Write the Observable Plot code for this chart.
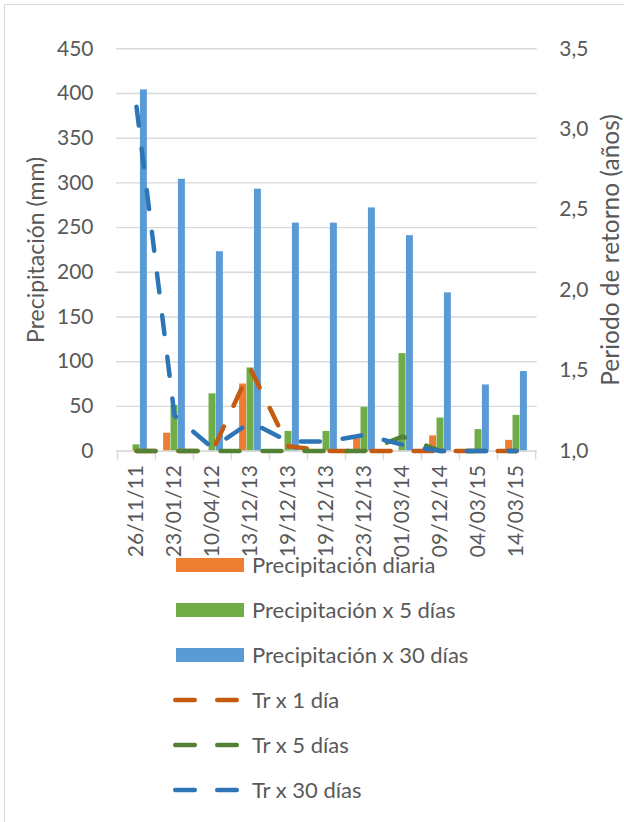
<!DOCTYPE html>
<html>
<head>
<meta charset="utf-8">
<script src="https://cdn.jsdelivr.net/npm/d3@7"></script>
<script src="https://cdn.jsdelivr.net/npm/@observablehq/plot@0.6"></script>
<style>
  html, body { margin: 0; padding: 0; background: #fff; }
  body { width: 624px; height: 822px; position: relative; overflow: hidden; font-family: Lato, "Open Sans", sans-serif; color: #595959; }
  #frame { position: absolute; left: 4px; top: 4px; width: 700px; height: 900px; border: 1.5px solid #d9d9d9; box-sizing: border-box; }
  #chart { position: absolute; left: 0; top: 0; }
  #legend { position: absolute; left: 0; top: 0; width: 624px; }
  .entry { position: absolute; left: 173px; height: 24px; display: flex; align-items: center; font-size: 22px; color: #595959; white-space: nowrap; }
  .entry .sw { width: 68px; height: 14px; margin-left: 3px; }
  .entry svg { width: 71px; height: 10px; }
  .entry span { position: absolute; left: 79px; line-height: 24px; }
</style>
</head>
<body>
<div id="frame"></div>
<div id="chart"></div>
<div id="legend"></div>
<script>
// ---- data ----
const categories = ["26/11/11","23/01/12","10/04/12","13/12/13","19/12/13","19/12/13","23/12/13","01/03/14","09/12/14","04/03/15","14/03/15"];
const precipDiaria = [0, 20, 0, 75, 0, 0, 14, 0, 17, 0, 12];
const precip5Dias  = [7, 51, 64, 93, 22, 22, 49, 109, 37, 24, 40];
const precip30Dias = [404, 304, 223, 293, 255, 255, 272, 241, 177, 74, 89];
const tr1Dia   = [1.0, 1.0, 1.0, 1.51, 1.03, 1.0, 1.0, 1.0, 1.0, 1.0, 1.0];
const tr5Dias  = [1.0, 1.0, 1.0, 1.0, 1.0, 1.0, 1.0, 1.09, 1.0, 1.0, 1.0];
const tr30Dias = [3.14, 1.22, 1.02, 1.18, 1.06, 1.06, 1.10, 1.04, 1.0, 1.0, 1.0];
const leftTicks  = [0, 50, 100, 150, 200, 250, 300, 350, 400, 450];
const rightTicks = [1.0, 1.5, 2.0, 2.5, 3.0, 3.5];

const seriesNames = ["Precipitación diaria", "Precipitación x 5 días", "Precipitación x 30 días", "Tr x 1 día", "Tr x 5 días", "Tr x 30 días"];
const colors = ["#ED7D31", "#70AD47", "#5B9BD5", "#C55A11", "#548235", "#2E75B6"];

// ---- layout ----
const W = 624, H = 560;
const mL = 116, mR = 87.3, mT = 48.3, mB = 109.4;
const bw = (W - mL - mR) / categories.length;
const barW = 7.2;
const yMax = 450;
const rMin = 1.0, rMax = 3.5;
const trToMm = t => (t - rMin) * yMax / (rMax - rMin);
const mmToTr = v => v * (rMax - rMin) / yMax + rMin;

const idx = categories.map((_, i) => i);
const rows = idx.map(i => ({i, d: precipDiaria[i], p5: precip5Dias[i], p30: precip30Dias[i], t1: tr1Dia[i], t5: tr5Dias[i], t30: tr30Dias[i]}));

const offsets = [-11, -barW / 2, 11 - barW]; // left edge of each bar relative to band centre
const inset = k => ({insetLeft: bw / 2 + offsets[k], insetRight: bw - (bw / 2 + offsets[k]) - barW});

const dash = {strokeWidth: 4.5, strokeDasharray: "19,23", strokeLinecap: "round", strokeLinejoin: "round"};

const chart = Plot.plot({
  width: W, height: H,
  marginLeft: mL, marginRight: mR, marginTop: mT, marginBottom: mB,
  style: {fontFamily: "Lato, sans-serif", fontSize: "21px", color: "#595959", background: "transparent", overflow: "visible"},
  x: {type: "band", domain: idx, padding: 0},
  y: {domain: [0, yMax]},
  marks: [
    Plot.gridY(leftTicks, {stroke: "#d9d9d9", strokeOpacity: 1, strokeWidth: 1.4}),
    Plot.axisY(leftTicks, {anchor: "left", tickSize: 0, tickPadding: 23, label: null}),
    Plot.axisY(rightTicks.map(trToMm), {anchor: "right", tickSize: 0, tickPadding: 22, label: null,
      tickFormat: v => mmToTr(v).toFixed(1).replace(".", ",")}),
    Plot.axisX({tickSize: 0, tickPadding: 14, tickRotate: -90, label: null, tickFormat: i => categories[i]}),
    Plot.barY(rows, {x: "i", y: "d", fill: colors[0], ...inset(0)}),
    Plot.barY(rows, {x: "i", y: "p5", fill: colors[1], ...inset(1)}),
    Plot.barY(rows, {x: "i", y: "p30", fill: colors[2], ...inset(2)}),
    Plot.ruleY([0], {stroke: "#d9d9d9", strokeWidth: 1.4}),
    Plot.ruleX(idx, {x: d => d, dx: -bw / 2, y1: 0, y2: -10, stroke: "#d9d9d9", strokeWidth: 1.4}),
    Plot.ruleX(idx.slice(-1), {x: d => d, dx: bw / 2, y1: 0, y2: -10, stroke: "#d9d9d9", strokeWidth: 1.4}),
    Plot.lineY(rows, {x: "i", y: d => trToMm(d.t1), stroke: colors[3], ...dash}),
    Plot.lineY(rows, {x: "i", y: d => trToMm(d.t5), stroke: colors[4], ...dash}),
    Plot.lineY(rows, {x: "i", y: d => trToMm(d.t30), stroke: colors[5], ...dash}),
    Plot.text(["Precipitación (mm)"], {frameAnchor: "left", textAnchor: "middle", lineAnchor: "middle", dx: -80, rotate: -90, fontSize: 23, fill: "#595959"}),
    Plot.text(["Periodo de retorno (años)"], {frameAnchor: "right", textAnchor: "middle", lineAnchor: "middle", dx: 74, rotate: -90, fontSize: 24.5, fill: "#595959"})
  ]
});
document.getElementById("chart").appendChild(chart);

// ---- legend (HTML, overlapping the lower part of the chart like the reference) ----
const legend = document.getElementById("legend");
seriesNames.forEach((name, k) => {
  const e = document.createElement("div");
  e.className = "entry";
  e.style.top = (565 + 45 * k - 12) + "px";
  if (k < 3) {
    const s = document.createElement("div");
    s.className = "sw";
    s.style.background = colors[k];
    e.appendChild(s);
  } else {
    const ns = "http://www.w3.org/2000/svg";
    const svg = document.createElementNS(ns, "svg");
    const ln = document.createElementNS(ns, "line");
    ln.setAttribute("x1", 2.25); ln.setAttribute("x2", 65);
    ln.setAttribute("y1", 5); ln.setAttribute("y2", 5);
    ln.setAttribute("stroke", colors[k]); ln.setAttribute("stroke-width", 4.5);
    ln.setAttribute("stroke-dasharray", "19.5,22.5"); ln.setAttribute("stroke-linecap", "round");
    svg.appendChild(ln);
    e.appendChild(svg);
  }
  const t = document.createElement("span");
  t.textContent = name;
  e.appendChild(t);
  legend.appendChild(e);
});
</script>
</body>
</html>
